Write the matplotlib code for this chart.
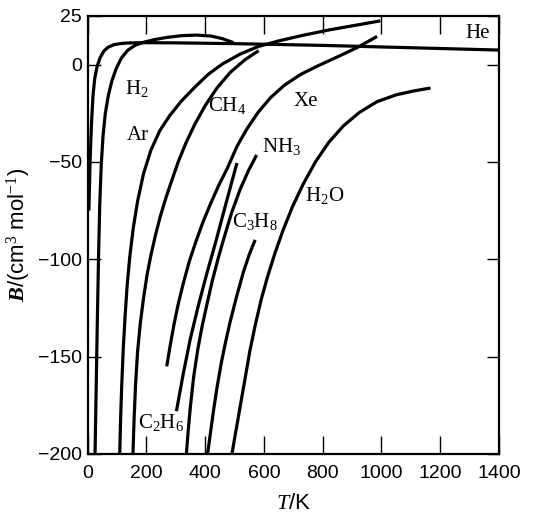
import matplotlib
matplotlib.use("Agg")
import matplotlib.pyplot as plt

plt.rcParams['mathtext.fontset'] = 'custom'
plt.rcParams['mathtext.rm'] = 'Liberation Serif'
plt.rcParams['mathtext.it'] = 'Liberation Serif:italic'
plt.rcParams['mathtext.bf'] = 'Liberation Serif:bold'
try:
    plt.rcParams['mathtext.bfit'] = 'Liberation Serif:italic:bold'
except KeyError:
    pass

# ---- data (T in K, B in cm^3/mol) ----
he_T = [4, 8, 13, 18, 24, 32, 42, 55, 70, 90, 115, 145, 200, 300, 500, 800, 1100, 1400]
he_B = [-75, -50, -30, -16, -7, -1, 3.5, 7, 9, 10.3, 10.9, 11.2, 11.3, 11.2, 10.8, 9.9, 8.7, 7.5]

h2_T = [25, 29, 33, 37, 41, 46, 52, 60, 70, 82, 97, 115, 137, 162, 190, 225, 270, 320, 370, 420, 460, 496]
h2_B = [-200, -165, -130, -98, -72, -52, -37, -25, -16, -8.5, -2, 3.5, 7.5, 10, 11.5, 12.8, 14, 14.9, 15.2, 14.7, 13.3, 11.3]

ar_T = [109, 112, 116, 121, 127, 134, 143, 155, 170, 190, 215, 245, 280, 320, 365,
        410, 460, 520, 580, 650, 730, 820, 910, 996]
ar_B = [-200, -182, -164, -146, -130, -114, -99, -84, -70, -56, -44, -34, -26, -18.5, -11.5,
        -5, 0.5, 5.5, 9.3, 12.2, 15, 17.8, 20.2, 22.5]

ch4_T = [154, 158, 163, 170, 179, 190, 202, 215, 230, 247, 265, 285, 308, 335, 365,
         400, 440, 485, 535, 582]
ch4_B = [-200, -182, -164, -147, -133, -120, -108, -98, -88, -78, -69, -60, -50, -40, -30.5,
         -21, -12, -4, 2.5, 7.2]

xe_T = [269, 280, 293, 308, 326, 346, 368, 392, 418, 446, 476, 508, 542, 580, 622,
        670, 725, 785, 850, 920, 985]
xe_B = [-155, -145, -134, -123, -112, -101, -91, -81, -71.5, -62, -53, -42, -33, -24.5, -17,
        -10.5, -5, -0.5, 4, 9, 14.5]

c2h6_T = [302, 325, 349, 377, 406, 435, 465, 490, 508]
c2h6_B = [-178, -159, -141, -123.5, -107, -91.5, -74.5, -60.5, -50.5]

nh3_T = [336, 342, 350, 361, 375, 390, 406, 425, 445, 462, 490, 519, 547, 575]
nh3_B = [-200, -188, -175, -160, -146, -134, -123, -110.5, -99, -90, -76, -64, -54.5, -46.4]

c3h8_T = [408, 418, 428, 440, 455, 470, 485, 507, 530, 550, 570]
c3h8_B = [-200, -189, -178, -166, -153, -142, -132, -119, -106.5, -97.5, -90]

h2o_T = [491, 500, 510, 522, 536, 552, 570, 590, 612, 637, 665, 697, 733, 775, 820,
         870, 925, 985, 1050, 1110, 1167]
h2o_B = [-200, -192, -183.5, -173, -161, -147, -134, -121, -109, -97, -85, -73, -61.5, -50, -40,
         -31.5, -24.5, -19, -15.5, -13.5, -12]

curves = [(he_T, he_B), (h2_T, h2_B), (ar_T, ar_B), (ch4_T, ch4_B), (xe_T, xe_B),
          (c2h6_T, c2h6_B), (nh3_T, nh3_B), (c3h8_T, c3h8_B), (h2o_T, h2o_B)]

gas_labels = ['He', 'H$_2$', 'Ar', 'CH$_4$', 'Xe', 'C$_2$H$_6$', 'NH$_3$', 'C$_3$H$_8$', 'H$_2$O']
label_T = [1285, 127, 134, 411, 700, 171, 594, 491, 741]
label_B = [15.8, -12, -36.6, -21.2, -18.7, -184, -41.8, -80.8, -67]

x_ticks = [0, 200, 400, 600, 800, 1000, 1200, 1400]
y_ticks = [-200, -150, -100, -50, 0, 25]

# ---- figure ----
fig = plt.figure(figsize=(5.4, 5.28), dpi=100)
ax = fig.add_axes([0.1624, 0.1402, 0.9241 - 0.1624, 0.9697 - 0.1402])

for T, B in curves:
    ax.plot(T, B, color='black', lw=2.3, solid_capstyle='butt', solid_joinstyle='round')

for txt, t, b in zip(gas_labels, label_T, label_B):
    ax.text(t, b, txt, ha='left', va='center', fontsize=15,
            family='Liberation Serif', color='black')

ax.set_xlim(0, 1400)
ax.set_ylim(-200, 25)
ax.set_xticks(x_ticks)
ax.set_yticks(y_ticks)

tick_fam = ['Liberation Sans', 'DejaVu Sans']
ax.set_xticklabels([str(v) for v in x_ticks], family=tick_fam, fontsize=14)
ax.set_yticklabels([str(v).replace('-', '\u2212') for v in y_ticks], family=tick_fam, fontsize=14)

ax.tick_params(axis='x', direction='in', length=13, width=1.0, top=True, pad=8)
ax.tick_params(axis='y', direction='in', length=9, width=1.0, right=True, pad=4)
for s in ax.spines.values():
    s.set_linewidth(1.6)

ax.set_xlabel(r'$\mathit{T}$/K', family=tick_fam, fontsize=16, labelpad=8)
ax.set_ylabel(r'$\mathbfit{B}$/(cm$^{3}$ mol$^{-1}$)', family=tick_fam, fontsize=16, labelpad=4)

fig.savefig('out.png', dpi=100)
